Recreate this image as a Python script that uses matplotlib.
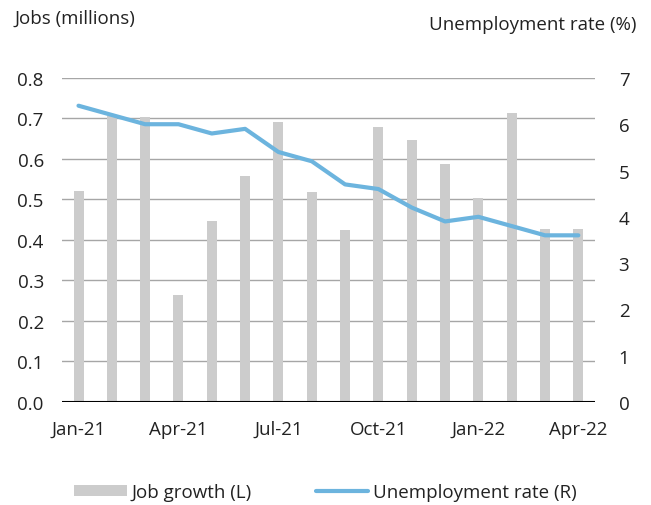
import numpy as np
import matplotlib
matplotlib.use("Agg")
import matplotlib.pyplot as plt

plt.rcParams['font.family'] = ['Open Sans', 'DejaVu Sans']

months = ['Jan-21', 'Feb-21', 'Mar-21', 'Apr-21', 'May-21', 'Jun-21', 'Jul-21', 'Aug-21',
          'Sep-21', 'Oct-21', 'Nov-21', 'Dec-21', 'Jan-22', 'Feb-22', 'Mar-22', 'Apr-22']
job_growth = [0.520, 0.706, 0.704, 0.263, 0.447, 0.557, 0.690, 0.518,
              0.425, 0.678, 0.647, 0.588, 0.504, 0.714, 0.428, 0.428]
unemp_rate = [6.4, 6.2, 6.0, 6.0, 5.8, 5.9, 5.4, 5.2,
              4.7, 4.6, 4.2, 3.9, 4.0, 3.8, 3.6, 3.6]

bar_col = '#cccccc'
line_col = '#6cb4de'
txt_col = '#222222'
fs = 13.5

fig = plt.figure(figsize=(6.51, 5.06), dpi=100)
ax = fig.add_axes([0.095, 0.2036, 0.819, 0.6404])
ax2 = ax.twinx()

x = np.arange(len(months))
ax.set_zorder(ax2.get_zorder() - 1)
ax2.patch.set_visible(False)

bars = ax.bar(x, job_growth, width=0.3, color=bar_col, label='Job growth (L)', zorder=2)
line, = ax2.plot(x, unemp_rate, color=line_col, lw=3, solid_capstyle='round',
                 label='Unemployment rate (R)')

ax.set_xlim(-0.5, len(months) - 0.5)
ax.set_ylim(0, 0.8)
ax.set_yticks(np.arange(0, 0.81, 0.1))
ax.set_yticklabels([f'{v:.1f}' for v in np.arange(0, 0.81, 0.1)])
ax2.set_ylim(0, 7)
ax2.set_yticks(range(0, 8))

ax.grid(axis='y', color='#a6a6a6', lw=1, zorder=1)
ax.set_axisbelow(True)
ax.axhline(0, color='black', lw=1.5, zorder=3)

ax.set_xticks(x[::3])
ax.set_xticklabels(months[::3])

for a in (ax, ax2):
    for s in a.spines.values():
        s.set_visible(False)
    a.tick_params(length=0, labelsize=fs, colors=txt_col)
ax.tick_params(axis='y', pad=13)
ax2.tick_params(axis='y', pad=17)
ax.tick_params(axis='x', pad=13)

fig.text(0.023, 0.962, 'Jobs (millions)', fontsize=fs, color=txt_col, va='center')
fig.text(0.978, 0.95, 'Unemployment rate (%)', fontsize=fs, color=txt_col,
         va='center', ha='right')

fig.legend(handles=[bars, line], loc='center', bbox_to_anchor=(0.5, 0.026),
           ncol=2, frameon=False, fontsize=fs, handlelength=2.8, handleheight=0.55,
           handletextpad=0.25, columnspacing=3.4, labelcolor=txt_col)

fig.savefig('out.png', dpi=100)
